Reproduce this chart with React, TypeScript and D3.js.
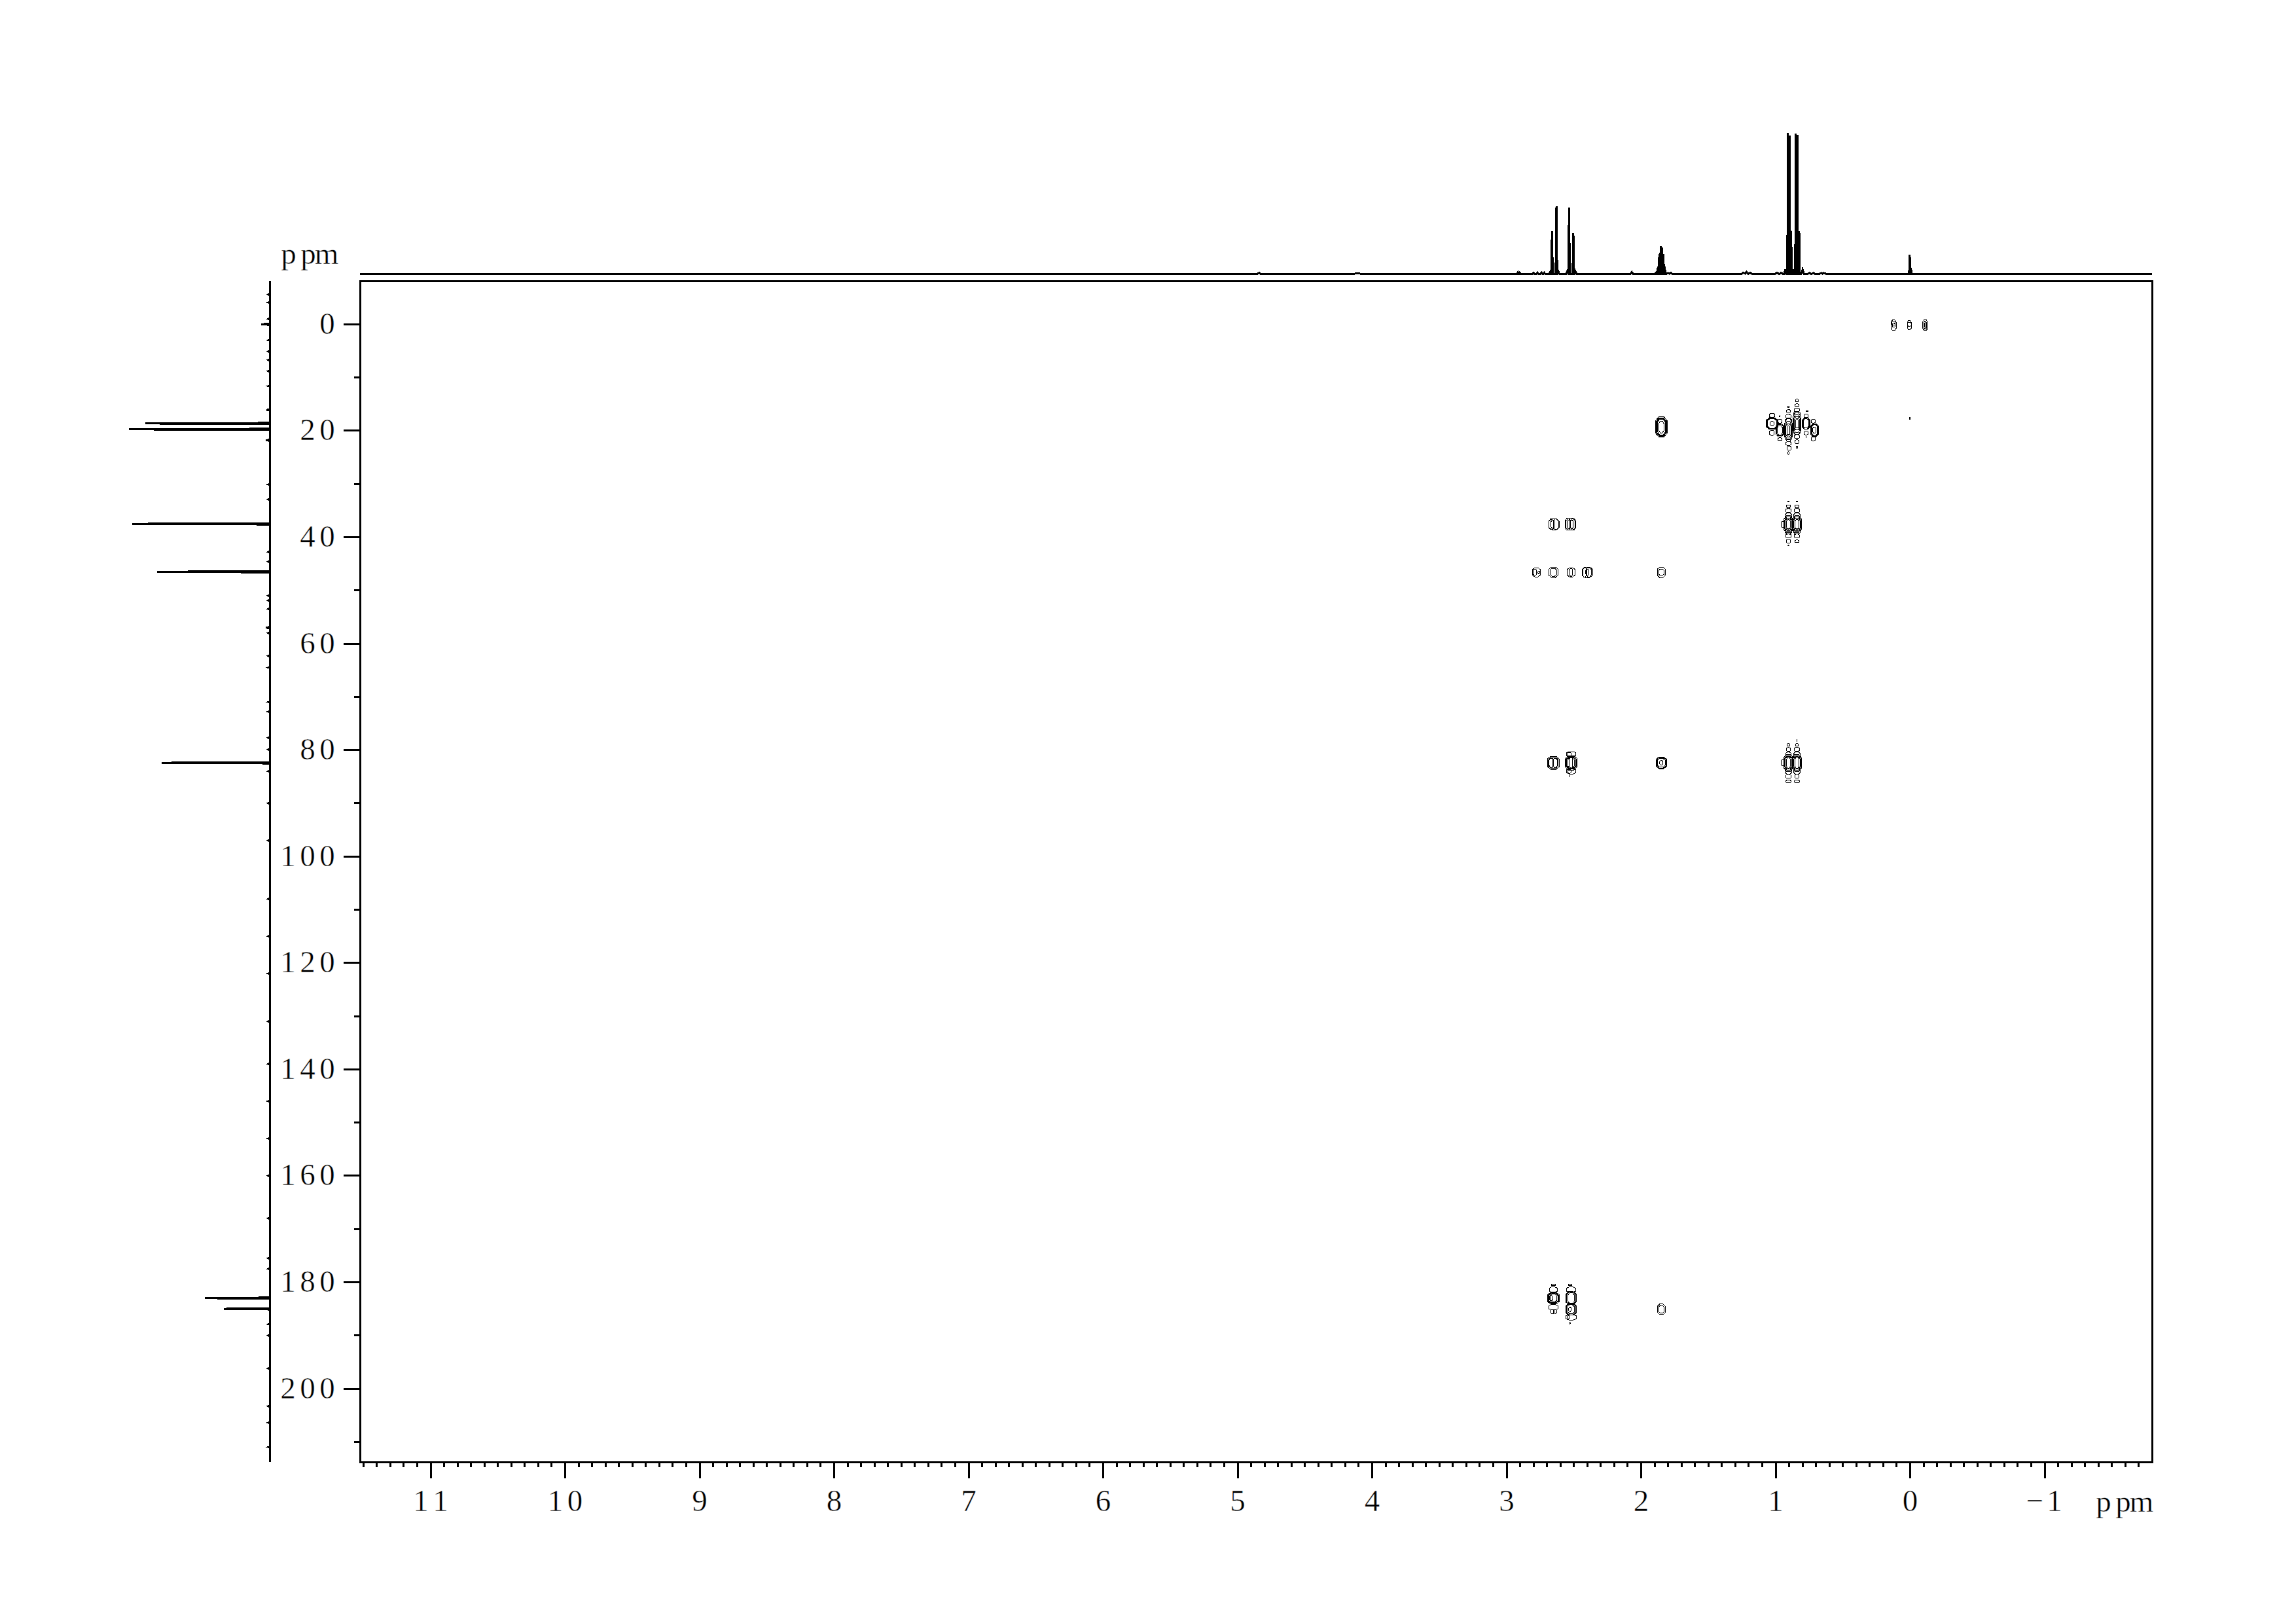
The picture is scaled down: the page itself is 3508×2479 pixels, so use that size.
import React from "react";
import * as d3 from "d3";

// ---------- axes ----------
const f2Labels = [11, 10, 9, 8, 7, 6, 5, 4, 3, 2, 1, 0, -1];
const f1Labels = [0, 20, 40, 60, 80, 100, 120, 140, 160, 180, 200];
const unitLabel = "ppm";

// ---------- 1D proton projection: [ppm, intensity %, half width ppm] ----------
const protonPeaks: number[][] = [
  [4.84, 0.6, 0.01], [4.11, 0.4, 0.02], [2.915, 1.0, 0.006], [2.905, 0.8, 0.006], [2.8, 0.7, 0.006],
  [2.77, 0.7, 0.006], [2.74, 0.7, 0.006], [2.72, 0.7, 0.006],
  [2.672, 2, 0.01], [2.663, 30, 0.006], [2.63, 48, 0.006], [2.618, 2, 0.01],
  [2.548, 2, 0.01], [2.536, 47, 0.006], [2.504, 29, 0.006], [2.49, 2, 0.01],
  [2.07, 1.2, 0.008], [1.885, 1, 0.01],
  [1.875, 5, 0.006], [1.865, 14, 0.006], [1.855, 19.5, 0.006], [1.845, 18.5, 0.006], [1.835, 14, 0.006], [1.825, 5, 0.006],
  [1.8, 0.6, 0.01], [1.78, 0.6, 0.01], [1.24, 0.7, 0.012], [1.217, 1.2, 0.01], [1.19, 0.7, 0.012],
  [0.99, 0.7, 0.01], [0.96, 0.7, 0.01],
  [0.928, 3, 0.008], [0.908, 100, 0.006], [0.897, 98, 0.006], [0.885, 30, 0.005],
  [0.868, 3, 0.006], [0.85, 99.5, 0.005], [0.838, 98.5, 0.005], [0.825, 30, 0.005], [0.8, 3, 0.01],
  [0.75, 0.5, 0.01], [0.72, 0.5, 0.01], [0.66, 0.5, 0.012], [0.64, 0.5, 0.012],
  [0.003, 13.5, 0.005], [-0.006, 4, 0.005],
];

// ---------- 1D carbon projection: [ppm, intensity %, half width ppm] ----------
const carbonPeaks: number[][] = [
  [0, 6, 0.12], [18.65, 88.4, 0.12], [19.75, 100, 0.12], [37.5, 97.7, 0.12], [46.5, 80, 0.12],
  [57, 2.8, 0.12], [82.4, 76.7, 0.12], [183, 46, 0.12], [185, 32.6, 0.12],
  [16.1, 2, 0.1], [21.8, 2.8, 0.1],
];
const carbonNoise = [
  -5.6, -4.1, -1, 3, 5.1, 6.7, 8.8, 11.6, 30.1, 32.9, 42.8, 44.6, 51, 51.9, 53.5, 58, 62.3, 64.5, 71, 72.8, 77.7, 79.9,
  84, 90, 97, 108, 115, 122, 131, 139, 146, 153, 160, 168, 175.5, 177.5, 187.9, 190, 196.2, 203.3, 206.4, 211,
];

// ---------- contours: [F2 ppm, F1 ppm, half width ppm, half height ppm] ----------
const tmsContours: number[][] = [
  [0.123, 0.17, 0.019, 0.98], [0.123, 0.17, 0.010, 0.37], [0.123, -0.2, 0.012, 0.37],
  [0.006, 0.17, 0.015, 0.86], [0.006, 0.0, 0.015, 0.37],
  [-0.112, 0.17, 0.019, 0.98], [-0.112, 0.17, 0.010, 0.74], [-0.112, 0.17, 0.004, 0.5],
  [0.003, 17.7, 0.002, 0.2],
];
const methineMethylContours: number[][] = [
  [1.85, 19.3, 0.044, 1.9], [1.85, 19.3, 0.038, 1.72], [1.85, 19.3, 0.034, 1.6], [1.85, 19.3, 0.029, 1.48], [1.85, 19.3, 0.019, 1.1],
];
const methylContours: number[][] = [
  [1.027, 18.65, 0.042, 1.1], [1.027, 18.65, 0.038, 1.0], [1.027, 18.65, 0.034, 0.9], [1.027, 18.65, 0.015, 0.37], [1.027, 17.1, 0.019, 0.37], [1.027, 20.4, 0.017, 0.49],
  [0.969, 19.9, 0.029, 1.23], [0.969, 19.9, 0.024, 1.1], [0.969, 19.9, 0.019, 0.86], [0.969, 18.2, 0.015, 0.37], [0.969, 21.6, 0.015, 0.25], [0.969, 17.3, 0.002, 0.12],
  [0.905, 19.9, 0.029, 2.1], [0.905, 19.9, 0.024, 1.7], [0.905, 19.9, 0.019, 1.23], [0.905, 19.9, 0.012, 0.86],
  [0.905, 16.3, 0.015, 0.25], [0.905, 17.3, 0.019, 0.37], [0.905, 18.2, 0.024, 0.49], [0.905, 21.2, 0.024, 0.49],
  [0.905, 22.4, 0.019, 0.37], [0.9, 23.3, 0.015, 0.37], [0.905, 24.2, 0.007, 0.25], [0.905, 15.5, 0.007, 0.12],
  [0.842, 18.65, 0.029, 2.1], [0.842, 18.65, 0.024, 1.7], [0.842, 18.65, 0.019, 1.23], [0.842, 18.65, 0.012, 0.86],
  [0.842, 14.35, 0.012, 0.25], [0.842, 15.2, 0.015, 0.25], [0.842, 16.1, 0.019, 0.37], [0.842, 16.9, 0.024, 0.49],
  [0.842, 20.1, 0.024, 0.62], [0.842, 21.1, 0.019, 0.37], [0.842, 22.1, 0.015, 0.37], [0.842, 23.1, 0.007, 0.18],
  [0.774, 18.65, 0.029, 1.1], [0.774, 18.65, 0.024, 1.0], [0.774, 18.65, 0.019, 0.86], [0.774, 17.2, 0.015, 0.37], [0.774, 20.4, 0.015, 0.37],
  [0.768, 16.3, 0.007, 0.1], [0.774, 21.2, 0.002, 0.12],
  [0.711, 19.9, 0.031, 1.23], [0.711, 19.9, 0.026, 1.12], [0.711, 19.9, 0.021, 1.0], [0.711, 19.9, 0.012, 0.6], [0.72, 18.2, 0.015, 0.37], [0.72, 21.5, 0.015, 0.37],
];
const ch2Contours37: number[][] = [
  [2.667, 37.6, 0.019, 0.98], [2.633, 37.6, 0.019, 0.98], [2.648, 37.6, 0.039, 1.0], [2.66, 37.6, 0.012, 0.7],
  [2.546, 37.6, 0.019, 1.1], [2.507, 37.6, 0.019, 1.1], [2.526, 37.6, 0.036, 1.1], [2.54, 37.6, 0.01, 0.8], [2.515, 37.6, 0.01, 0.8],
];
const methylContours37: number[][] = [
  [0.905, 37.6, 0.034, 1.6], [0.905, 37.6, 0.029, 1.35], [0.905, 37.6, 0.024, 1.15], [0.905, 37.6, 0.015, 0.9],
  [0.842, 37.6, 0.034, 1.6], [0.842, 37.6, 0.029, 1.35], [0.842, 37.6, 0.024, 1.15], [0.842, 37.6, 0.015, 0.9],
  [0.947, 37.6, 0.012, 0.6],
  [0.905, 33.3, 0.007, 0.12], [0.842, 33.3, 0.003, 0.12], [0.905, 34.2, 0.015, 0.25], [0.842, 34.2, 0.015, 0.25],
  [0.905, 35.0, 0.019, 0.37], [0.842, 35.0, 0.019, 0.37], [0.905, 36.0, 0.024, 0.49], [0.842, 36.0, 0.024, 0.49],
  [0.905, 38.9, 0.024, 0.49], [0.842, 38.9, 0.024, 0.49], [0.905, 39.8, 0.019, 0.37], [0.842, 39.8, 0.019, 0.37],
  [0.905, 40.8, 0.015, 0.37], [0.842, 40.8, 0.015, 0.25], [0.905, 41.6, 0.007, 0.06],
];
const contours46: number[][] = [
  [2.779, 46.6, 0.029, 0.86], [2.76, 46.6, 0.007, 0.25], [2.79, 46.6, 0.012, 0.6],
  [2.653, 46.6, 0.034, 0.98], [2.653, 46.6, 0.024, 0.74],
  [2.521, 46.6, 0.029, 0.86], [2.521, 46.6, 0.012, 0.74],
  [2.4, 46.6, 0.039, 0.98], [2.42, 46.6, 0.015, 0.86], [2.39, 46.6, 0.019, 0.86], [2.4, 46.6, 0.012, 0.6],
  [1.85, 46.6, 0.029, 0.98], [1.85, 46.6, 0.02, 0.6],
];
const contours82: number[][] = [
  [2.653, 82.4, 0.044, 1.23], [2.653, 82.4, 0.036, 1.05], [2.668, 82.4, 0.016, 0.86], [2.64, 82.4, 0.016, 0.86],
  [2.521, 82.4, 0.044, 1.35], [2.521, 82.4, 0.038, 1.2], [2.521, 82.4, 0.032, 1.1], [2.521, 82.4, 0.024, 0.98], [2.521, 82.4, 0.012, 0.98],
  [2.521, 80.8, 0.034, 0.49], [2.535, 80.8, 0.012, 0.37], [2.521, 84.0, 0.034, 0.49], [2.535, 84.0, 0.012, 0.37], [2.53, 84.95, 0.002, 0.12],
  [1.85, 82.4, 0.039, 1.1], [1.85, 82.4, 0.034, 0.98], [1.85, 82.4, 0.029, 0.8], [1.85, 82.4, 0.012, 0.4],
  [0.905, 82.4, 0.034, 1.6], [0.905, 82.4, 0.029, 1.35], [0.905, 82.4, 0.024, 1.15], [0.905, 82.4, 0.015, 1.0],
  [0.842, 82.4, 0.034, 1.6], [0.842, 82.4, 0.029, 1.35], [0.842, 82.4, 0.024, 1.15], [0.842, 82.4, 0.015, 1.0],
  [0.947, 82.4, 0.012, 0.6],
  [0.905, 79.05, 0.012, 0.25], [0.842, 79.05, 0.012, 0.25], [0.842, 78.2, 0.002, 0.15],
  [0.905, 79.9, 0.015, 0.37], [0.842, 79.9, 0.019, 0.37], [0.905, 80.9, 0.019, 0.49], [0.842, 80.9, 0.024, 0.49],
  [0.905, 84.0, 0.024, 0.49], [0.842, 84.0, 0.024, 0.49], [0.905, 84.96, 0.019, 0.37], [0.842, 84.96, 0.015, 0.37],
  [0.905, 85.9, 0.019, 0.25], [0.842, 85.9, 0.019, 0.25],
];
const contours183: number[][] = [
  [2.653, 183.0, 0.044, 1.1], [2.653, 183.0, 0.039, 0.98], [2.653, 183.0, 0.034, 0.88], [2.653, 183.0, 0.024, 0.74], [2.67, 183.0, 0.012, 0.5],
  [2.653, 181.4, 0.029, 0.49], [2.653, 184.7, 0.034, 0.49], [2.66, 185.5, 0.015, 0.37], [2.64, 185.5, 0.012, 0.37], [2.653, 180.5, 0.015, 0.15],
  [2.521, 183.0, 0.039, 1.23], [2.521, 183.0, 0.034, 1.12], [2.521, 183.0, 0.024, 0.98], [2.521, 185.1, 0.039, 1.1], [2.521, 185.1, 0.034, 1.0], [2.521, 185.1, 0.024, 0.86], [2.53, 185.1, 0.008, 0.4],
  [2.521, 181.4, 0.034, 0.49], [2.521, 186.6, 0.039, 0.49], [2.54, 186.6, 0.01, 0.3], [2.53, 180.5, 0.012, 0.15], [2.53, 187.7, 0.004, 0.15],
  [1.85, 185.1, 0.029, 0.98], [1.85, 185.1, 0.019, 0.74],
];

const allContours = [
  tmsContours, methineMethylContours, methylContours, ch2Contours37, methylContours37, contours46, contours82, contours183,
].flat();

// ---------- scales ----------
const W = 3508;
const H = 2479;
const frame = { left: 550, right: 3288, top: 429, bottom: 2233 };
const xScale = d3.scaleLinear().domain([11, -1]).range([658, 3124]);
const yScale = d3.scaleLinear().domain([0, 200]).range([495.3, 2121]);
const topIntensity = d3.scaleLinear().domain([0, 100]).range([418, 203]);
const leftIntensity = d3.scaleLinear().domain([0, 100]).range([412, 197]);
const F2_START = xScale.invert(frame.left);
const F2_END = xScale.invert(frame.right);
const F1_START = yScale.invert(frame.top);
const F1_END = yScale.invert(frame.bottom);

const INK = "#000";
const FONT = "'Liberation Serif', serif";
const CHAR_STEP = 30;

function profile(peaks: number[][], start: number, end: number): number[][] {
  const asc = start < end;
  const sorted = [...peaks].sort((a, b) => (asc ? a[0] - b[0] : b[0] - a[0]));
  const pts: number[][] = [[start, 0]];
  const dir = asc ? 1 : -1;
  for (const [p, h, w] of sorted) {
    pts.push([p - dir * w, 0], [p, h], [p + dir * w, 0]);
  }
  pts.push([end, 0]);
  return pts;
}

const topPath = d3
  .line<number[]>()
  .x((d) => xScale(d[0]))
  .y((d) => topIntensity(d[1]))(profile(protonPeaks, F2_START, F2_END)) as string;

const leftPeaksAll = [...carbonPeaks, ...carbonNoise.map((v) => [v, 0.9, 0.1])];
const leftPath = d3
  .line<number[]>()
  .x((d) => leftIntensity(d[1]))
  .y((d) => yScale(d[0]))(profile(leftPeaksAll, F1_START, F1_END)) as string;

const octagon = d3.line<number[]>().curve(d3.curveLinearClosed);
function contourPath([f2, f1, rx, ry]: number[]): string {
  const x0 = xScale(f2 + rx), x1 = xScale(f2 - rx);
  const y0 = yScale(f1 - ry), y1 = yScale(f1 + ry);
  const cx = (x1 - x0) * 0.28, cy = (y1 - y0) * 0.2;
  return octagon([
    [x0 + cx, y0], [x1 - cx, y0], [x1, y0 + cy], [x1, y1 - cy],
    [x1 - cx, y1], [x0 + cx, y1], [x0, y1 - cy], [x0, y0 + cy],
  ]) as string;
}

function Spaced({ chars, cx, y }: { chars: string; cx: number[]; y: number }) {
  return (
    <text x={cx.join(" ")} y={y} textAnchor="middle" fontFamily={FONT} fontSize={47} fill={INK} stroke="#fff" strokeWidth={0.5}>
      {chars}
    </text>
  );
}
const centred = (s: string, c: number) =>
  Array.from(s).map((_, i) => c + (i - (s.length - 1) / 2) * CHAR_STEP);
const rightEnd = (s: string, last: number) =>
  Array.from(s).map((_, i) => last - (s.length - 1 - i) * CHAR_STEP);

export default function App() {
  const f2Minor = d3.range(-17, 116).map((v) => v / 10).filter((v) => Math.abs(v - Math.round(v)) > 0.01);
  const f1Minor = d3.range(0, 22).map((v) => v * 10).filter((v) => v % 20 !== 0);
  return (
    <svg width={W} height={H} viewBox={`0 0 ${W} ${H}`} style={{ position: "absolute", left: 0, top: 0, background: "#fff" }}>
      <g shapeRendering="crispEdges">
        <rect x={frame.left} y={frame.top} width={frame.right - frame.left} height={frame.bottom - frame.top} fill="none" stroke={INK} strokeWidth={3} />
        {f2Labels.map((v) => (
          <line key={v} x1={xScale(v)} x2={xScale(v)} y1={frame.bottom} y2={frame.bottom + 25} stroke={INK} strokeWidth={3} />
        ))}
        {f2Minor.map((v) => (
          <line key={v} x1={xScale(v)} x2={xScale(v)} y1={frame.bottom} y2={frame.bottom + 8} stroke={INK} strokeWidth={3} />
        ))}
        {f1Labels.map((v) => (
          <line key={v} x1={frame.left - 25} x2={frame.left} y1={yScale(v)} y2={yScale(v)} stroke={INK} strokeWidth={3} />
        ))}
        {f1Minor.map((v) => (
          <line key={v} x1={frame.left - 9} x2={frame.left} y1={yScale(v)} y2={yScale(v)} stroke={INK} strokeWidth={3} />
        ))}
        <path d={topPath} fill="none" stroke={INK} strokeWidth={3} strokeLinejoin="miter" />
        <path d={leftPath} fill="none" stroke={INK} strokeWidth={3} strokeLinejoin="miter" />
        <g fill="none" stroke={INK} strokeWidth={1}>
          {allContours.map((c, i) => (
            <path key={i} d={contourPath(c)} />
          ))}
        </g>
      </g>
      {f2Labels.map((v) => {
        const s = v < 0 ? `\u2212${-v}` : String(v);
        return <Spaced key={v} chars={s} cx={centred(s, xScale(v))} y={2308} />;
      })}
      {f1Labels.map((v) => {
        const s = String(v);
        return <Spaced key={v} chars={s} cx={rightEnd(s, 500)} y={yScale(v) + 14.5} />;
      })}
      <Spaced chars={unitLabel} cx={[441, 471, 499]} y={403} />
      <Spaced chars={unitLabel} cx={[3214, 3244, 3272]} y={2309} />
    </svg>
  );
}
